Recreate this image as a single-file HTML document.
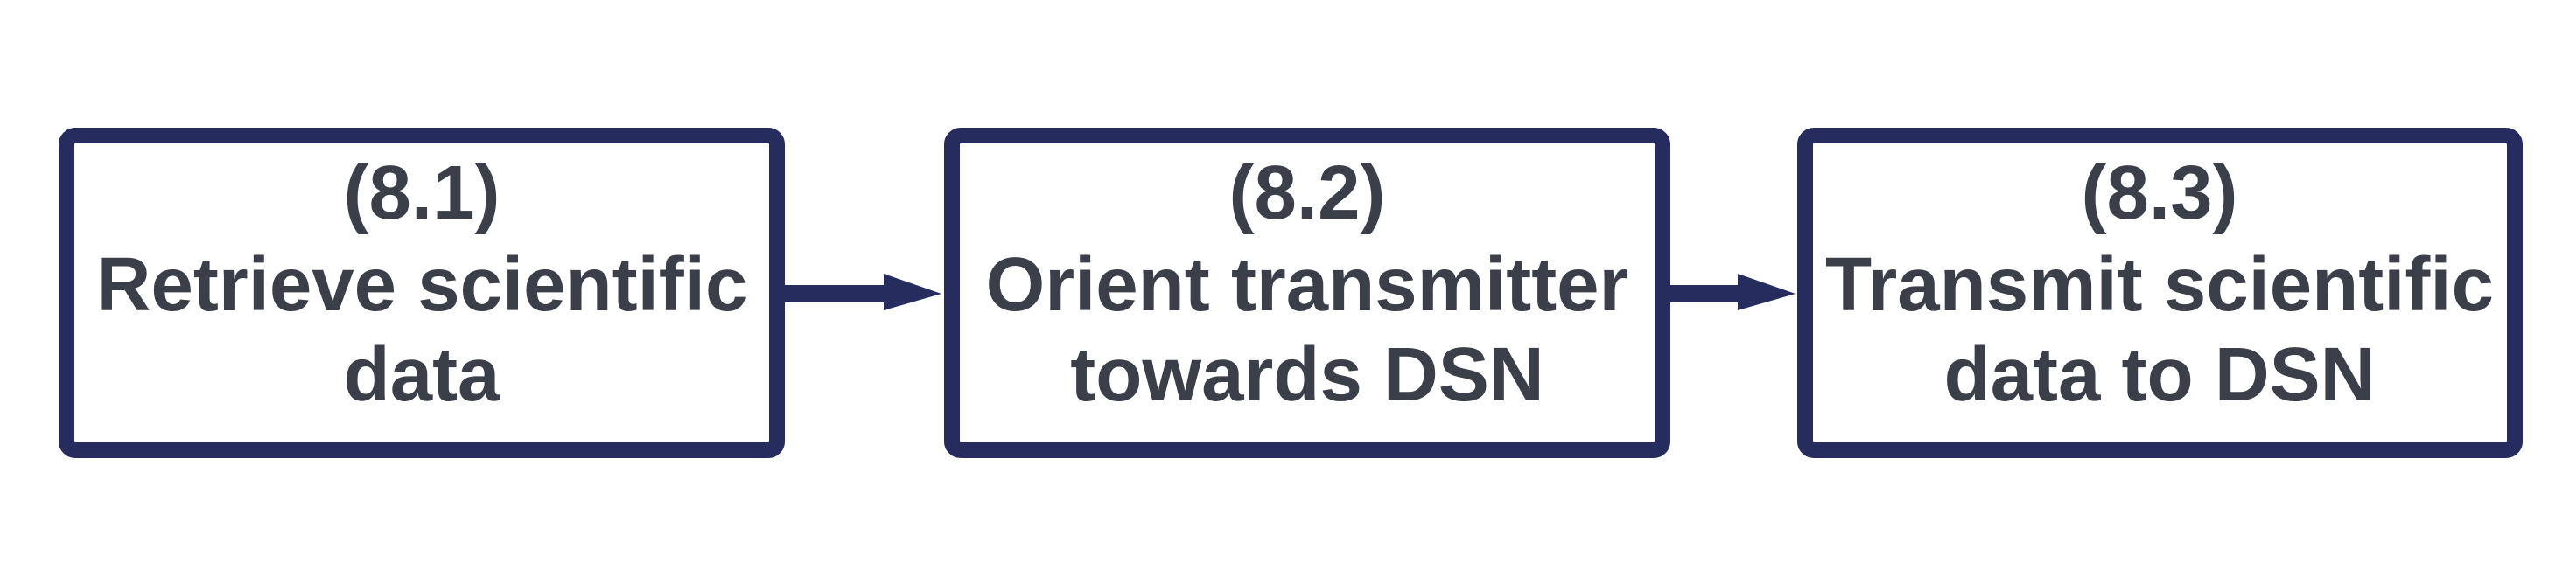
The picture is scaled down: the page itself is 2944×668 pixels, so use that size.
<!DOCTYPE html>
<html><head><meta charset="utf-8"><style>
html,body{margin:0;padding:0;background:#fff;}
svg{display:block;}
text{font-family:"Liberation Sans",Arial,sans-serif;font-weight:bold;font-size:87px;fill:#3a3f4a;text-anchor:middle;}
</style></head><body>
<svg width="2944" height="668" viewBox="0 0 2944 668" xmlns="http://www.w3.org/2000/svg">
<g fill="none" stroke="#272c5e" stroke-width="18">
<rect x="76" y="155" width="812" height="360" rx="10"/>
<rect x="1088" y="155" width="812" height="360" rx="10"/>
<rect x="2063" y="155" width="811" height="360" rx="10"/>
</g>
<g fill="#272c5e">
<rect x="897" y="326" width="118" height="20"/>
<polygon points="1010,313 1076,336 1010,355"/>
<rect x="1909" y="326" width="82" height="20"/>
<polygon points="1986,313 2052,336 1986,355"/>
</g>
<text x="482" y="250">(8.1)</text>
<text x="482" y="355">Retrieve scientific</text>
<text x="482" y="458">data</text>
<text x="1494" y="250">(8.2)</text>
<text x="1494" y="355">Orient transmitter</text>
<text x="1494" y="458">towards DSN</text>
<text x="2468" y="250">(8.3)</text>
<text x="2468" y="355">Transmit scientific</text>
<text x="2468" y="458">data to DSN</text>
</svg>
</body></html>
